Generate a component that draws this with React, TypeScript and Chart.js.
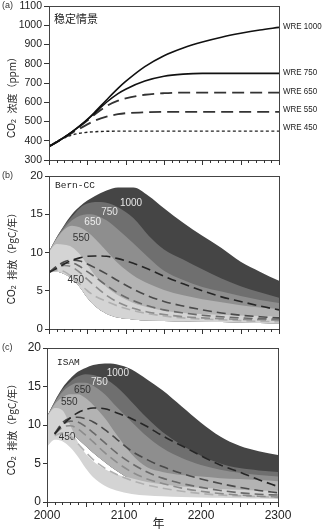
import React, { useEffect, useRef } from "react";
import { Chart, registerables } from "chart.js";

Chart.register(...registerables);

// ---------- Panel (a): CO2 concentration (ppm) ----------
const yearsA = [2000, 2010, 2020, 2030, 2040, 2050, 2060, 2075, 2090, 2100, 2125, 2150, 2175, 2200, 2225, 2250, 2275, 2300];
const wre1000 = [370, 393, 418, 446, 477, 511, 550, 612, 672, 708, 785, 842, 882, 913, 938, 958, 975, 989];
const wre750 = [370, 393, 418, 446, 476, 509, 545, 600, 645, 668, 710, 735, 746, 750, 750, 750, 750, 750];
const wre650 = [370, 393, 417, 444, 474, 505, 538, 580, 608, 620, 639, 647, 650, 650, 650, 650, 650, 650];
const wre550 = [370, 392, 415, 440, 463, 485, 505, 525, 538, 543, 548, 550, 550, 550, 550, 550, 550, 550];
const wre450 = [370, 396, 416, 430, 439, 444, 447, 449, 450, 450, 450, 450, 450, 450, 450, 450, 450, 450];
const wreNames = ["WRE 1000", "WRE 750", "WRE 650", "WRE 550", "WRE 450"];
const wreLabelValues = [995, 757, 658, 565, 471];
const ppmTicks = { min: 300, max: 1100, step: 100 };

// ---------- Panels (b),(c): emissions (PgC/yr) ----------
const yearsE = [2000, 2010, 2020, 2030, 2040, 2050, 2060, 2075, 2090, 2110, 2130, 2150, 2175, 2200, 2225, 2250, 2275, 2300];
const scenarioNames = ["1000", "750", "650", "550", "450"];

// Bern-CC
const bernUp1000 = [10.1, 12.0, 13.6, 15.0, 16.0, 16.8, 17.4, 18.1, 18.5, 18.5, 17.4, 15.8, 13.9, 12.2, 10.6, 8.8, 7.5, 6.3];
const bernUp750 = [10.1, 12.0, 13.5, 14.7, 15.8, 16.4, 16.6, 16.5, 15.9, 14.5, 12.2, 10.4, 9.1, 7.8, 6.6, 5.6, 4.8, 4.1];
const bernUp650 = [10.1, 11.9, 13.2, 14.2, 14.8, 15.0, 14.9, 14.2, 13.0, 11.2, 9.3, 7.6, 6.4, 5.5, 4.9, 4.3, 3.8, 3.4];
const bernUp550 = [10.1, 11.8, 13.0, 13.5, 13.3, 12.7, 11.8, 10.2, 8.6, 7.0, 5.9, 5.1, 4.4, 3.9, 3.5, 3.1, 2.8, 2.6];
const bernUp450 = [10.1, 11.1, 11.0, 10.7, 9.8, 8.4, 7.0, 5.5, 4.4, 3.4, 2.8, 2.4, 2.1, 1.95, 1.85, 1.75, 1.7, 1.6];
const bernLow = [7.5, 7.5, 7.2, 6.6, 5.5, 4.1, 3.0, 2.0, 1.5, 1.25, 1.1, 1.05, 1.0, 0.95, 0.9, 0.85, 0.8, 0.75];
const bernD1000 = [7.4, 7.9, 8.5, 9.0, 9.3, 9.5, 9.55, 9.5, 9.2, 8.6, 7.8, 6.9, 5.9, 5.0, 4.2, 3.6, 3.0, 2.5];
const bernD750 = [7.4, 8.2, 8.8, 9.0, 8.9, 8.5, 8.0, 7.2, 6.3, 5.2, 4.3, 3.6, 3.0, 2.5, 2.1, 1.8, 1.6, 1.45];
const bernD650 = [7.4, 8.1, 8.6, 8.6, 8.2, 7.5, 6.8, 5.7, 4.7, 3.7, 3.0, 2.5, 2.1, 1.8, 1.6, 1.45, 1.35, 1.3];
const bernD550 = [7.4, 8.0, 8.3, 8.1, 7.4, 6.5, 5.6, 4.4, 3.5, 2.7, 2.2, 1.9, 1.6, 1.45, 1.35, 1.25, 1.2, 1.15];
const bernD450 = [7.4, 7.7, 7.5, 6.8, 5.9, 5.0, 4.3, 3.6, 3.0, 2.4, 2.0, 1.7, 1.45, 1.3, 1.2, 1.1, 1.0, 0.95];
const bernLabelYears = [2107, 2079, 2057, 2042, 2035];
const bernLabelValues = [16.5, 15.3, 13.9, 11.8, 6.4];

// ISAM
const isamUp1000 = [11.1, 13.1, 14.8, 16.0, 16.9, 17.4, 17.8, 18.0, 17.9, 17.2, 15.9, 14.5, 12.4, 10.3, 8.5, 7.3, 6.6, 6.1];
const isamUp750 = [11.1, 13.0, 14.6, 15.6, 16.3, 16.6, 16.5, 16.0, 15.0, 13.0, 10.9, 9.1, 7.4, 6.0, 5.0, 4.4, 4.1, 3.9];
const isamUp650 = [11.1, 12.9, 14.3, 15.1, 15.5, 15.5, 15.1, 14.0, 12.4, 10.4, 8.5, 7.0, 5.7, 4.8, 4.2, 3.8, 3.5, 3.3];
const isamUp550 = [11.1, 12.7, 13.6, 14.0, 14.0, 13.5, 12.6, 10.9, 8.8, 6.2, 4.5, 3.9, 3.5, 3.3, 3.1, 3.0, 2.85, 2.7];
const isamLow550 = [7.5, 8.5, 9.0, 9.2, 8.2, 7.3, 6.4, 5.2, 4.1, 2.9, 2.4, 2.1, 1.8, 1.6, 1.5, 1.4, 1.3, 1.2];
const isamUp450 = [11.1, 12.2, 11.9, 10.0, 7.8, 6.3, 5.3, 4.3, 3.6, 3.1, 2.6, 2.3, 2.0, 1.85, 1.7, 1.6, 1.5, 1.45];
const isamLow450 = [7.2, 8.1, 7.9, 7.1, 5.9, 4.4, 3.2, 2.1, 1.5, 1.05, 0.85, 0.75, 0.65, 0.6, 0.55, 0.5, 0.45, 0.4];
const isamD1000 = [null, 8.8, 10.0, 10.9, 11.6, 12.0, 12.2, 12.1, 11.6, 10.8, 9.8, 8.6, 7.3, 6.0, 4.8, 3.9, 2.9, 2.0];
const isamD750 = [null, 8.9, 10.3, 10.9, 11.0, 10.8, 10.4, 9.4, 8.2, 6.6, 5.5, 4.6, 3.7, 3.0, 2.4, 1.9, 1.5, 1.2];
const isamD650 = [null, 8.9, 10.0, 10.5, 10.4, 9.8, 9.0, 7.7, 6.4, 5.0, 3.9, 3.1, 2.4, 1.9, 1.5, 1.2, 1.0, 0.9];
const isamD550 = [null, 8.8, 9.7, 9.9, 9.5, 8.7, 7.8, 6.4, 5.2, 3.9, 3.0, 2.4, 1.8, 1.4, 1.1, 0.9, 0.75, 0.65];
const isamD450 = [null, 8.6, 9.0, 8.6, 7.6, 6.5, 5.5, 4.4, 3.6, 2.8, 2.2, 1.8, 1.4, 1.1, 0.9, 0.8, 0.7, 0.6];
const isamLabelYears = [2092, 2068, 2046, 2029, 2026];
const isamLabelValues = [16.75, 15.6, 14.5, 12.9, 8.4];

const emisTicks = { min: 0, max: 20, step: 5 };
const yearRange = { min: 2000, max: 2300, labelStep: 100, minorStep: 10, majorStep: 50 };

// ---------- styles ----------
const SANS = "'Liberation Sans', Arial, sans-serif";
const CJK = "'Noto Sans CJK SC', sans-serif";
const MONO = "'Liberation Mono', 'DejaVu Sans Mono', monospace";
const AX = "#333";
const bandColors = ["#454545", "#6f6f6f", "#8e8e8e", "#b3b3b3", "#d4d4d4"];
const dashColors = ["#262626", "#4a4a4a", "#6a6a6a", "#8c8c8c", "#b0b0b0"];
const bernLabelColors = ["#e6e6e6", "#e6e6e6", "#eeeeee", "#333", "#333"];
const isamLabelColors = ["#e6e6e6", "#e6e6e6", "#333", "#333", "#333"];

const pts = (years: number[], vals: (number | null)[]) => years.map((x, i) => ({ x, y: vals[i] }));

function scales(o: { ymin: number; ymax: number; step: number; yWidth: number; xHeight: number; showX: boolean; yFont: number; tickLen: number; tickPad: number }) {
  return {
    x: {
      type: "linear",
      min: yearRange.min,
      max: yearRange.max,
      afterFit: (s: any) => { s.height = o.xHeight; },
      grid: { display: false, drawTicks: true, tickLength: 4 },
      border: { display: true, color: AX, width: 1 },
      ticks: {
        display: o.showX,
        stepSize: yearRange.labelStep,
        padding: 2,
        maxRotation: 0,
        autoSkip: false,
        color: "#222",
        font: { family: SANS, size: 12 },
        callback: (v: any) => String(v),
      },
    },
    y: {
      type: "linear",
      min: o.ymin,
      max: o.ymax,
      afterFit: (s: any) => { s.width = o.yWidth; },
      grid: { drawOnChartArea: false, drawTicks: true, tickLength: o.tickLen, color: AX, lineWidth: 1 },
      border: { display: true, color: AX, width: 1 },
      ticks: {
        stepSize: o.step,
        padding: o.tickPad,
        color: "#222",
        font: { family: SANS, size: o.yFont },
        callback: (v: any) => String(v),
      },
    },
  };
}

type Part = { t: string; font: string; dy?: number };

function drawRotated(ctx: CanvasRenderingContext2D, x: number, y: number, parts: Part[]) {
  ctx.save();
  ctx.translate(x, y);
  ctx.rotate(-Math.PI / 2);
  ctx.fillStyle = "#222";
  ctx.textBaseline = "middle";
  ctx.textAlign = "left";
  let total = 0;
  const widths = parts.map((p) => { ctx.font = p.font; const w = ctx.measureText(p.t).width; total += w; return w; });
  let cx = -total / 2;
  parts.forEach((p, i) => { ctx.font = p.font; ctx.fillText(p.t, cx, p.dy || 0); cx += widths[i]; });
  ctx.restore();
}

function drawFrameAndTicks(chart: any) {
  const { ctx, chartArea } = chart;
  const { left, right, top, bottom } = chartArea;
  const xs = chart.scales.x;
  ctx.save();
  ctx.strokeStyle = "#444";
  ctx.lineWidth = 1;
  ctx.strokeRect(Math.round(left) + 0.5, Math.round(top) + 0.5, Math.round(right - left), Math.round(bottom - top));
  ctx.strokeStyle = AX;
  ctx.beginPath();
  for (let yr = yearRange.min; yr <= yearRange.max; yr += yearRange.minorStep) {
    const px = Math.round(xs.getPixelForValue(yr)) + 0.5;
    const len = yr % yearRange.majorStep === 0 ? 5 : 3;
    ctx.moveTo(px, Math.round(bottom));
    ctx.lineTo(px, Math.round(bottom) + len);
  }
  ctx.stroke();
  ctx.restore();
}

function panelLetter(ctx: CanvasRenderingContext2D, text: string, y: number) {
  ctx.save();
  ctx.fillStyle = "#333";
  ctx.font = `9px ${SANS}`;
  ctx.textBaseline = "middle";
  ctx.textAlign = "left";
  ctx.fillText(text, 2, y);
  ctx.restore();
}

function configA(): any {
  const lines = [
    { d: wre1000, dash: [] as number[], w: 1.6, c: "#111" },
    { d: wre750, dash: [], w: 1.6, c: "#111" },
    { d: wre650, dash: [12, 6], w: 1.8, c: "#333" },
    { d: wre550, dash: [12, 6], w: 1.8, c: "#333" },
    { d: wre450, dash: [3, 2.5], w: 1.4, c: "#222" },
  ];
  return {
    type: "line",
    data: {
      datasets: lines.map((l) => ({
        data: pts(yearsA, l.d),
        borderColor: l.c,
        borderWidth: l.w,
        borderDash: l.dash,
        pointRadius: 0,
        fill: false,
        cubicInterpolationMode: "monotone",
      })),
    },
    options: {
      responsive: false,
      animation: false,
      devicePixelRatio: 1,
      layout: { padding: { top: 26, right: 45, bottom: 0, left: 0 } },
      plugins: { legend: { display: false }, tooltip: { enabled: false } },
      scales: scales({ ymin: ppmTicks.min, ymax: ppmTicks.max, step: ppmTicks.step, yWidth: 49, xHeight: 10, showX: false, yFont: 10.5, tickLen: 5, tickPad: 2 }),
    },
    plugins: [
      {
        id: "decorA",
        afterDraw(chart: any) {
          const { ctx, chartArea } = chart;
          drawFrameAndTicks(chart);
          const ys = chart.scales.y;
          ctx.save();
          ctx.fillStyle = "#222";
          ctx.font = `9.5px ${SANS}`;
          ctx.textBaseline = "middle";
          ctx.textAlign = "left";
          wreNames.forEach((n, i) => {
            const w = ctx.measureText(n).width * 0.84;
            ctx.fillText(n, chartArea.right + 4, ys.getPixelForValue(wreLabelValues[i]), w);
          });
          ctx.font = `11px ${CJK}`;
          ctx.fillText("稳定情景", chartArea.left + 5, chartArea.top + 13);
          ctx.restore();
          panelLetter(ctx, "(a)", chartArea.top);
          drawRotated(ctx, 12, 115, [
            { t: "CO", font: `10px ${SANS}` },
            { t: "2", font: `7px ${SANS}`, dy: 2 },
            { t: "  ", font: `10px ${SANS}` },
            { t: "浓度", font: `10px ${CJK}` },
            { t: "（ppm）", font: `10px ${CJK}` },
          ]);
        },
      },
    ],
  };
}

function configEmis(o: {
  lowMain: number[]; lowOther: number[]; ups: number[][]; dashed: (number | null)[][];
  labelYears: number[]; labelValues: number[]; labelColors: string[];
  name: string; nameDx: number; nameDy: number; letter: string; yWidth: number; padRight: number;
  xHeight: number; showX: boolean; yFont: number; titleY: number; xTitle: boolean;
}): any {
  const ds: any[] = [];
  const base = { pointRadius: 0, cubicInterpolationMode: "monotone" };
  ds.push({ ...base, data: pts(yearsE, o.lowMain), borderWidth: 0, borderColor: "rgba(0,0,0,0)", fill: false, order: 20 });
  ds.push({ ...base, data: pts(yearsE, o.lowOther), borderWidth: 0, borderColor: "rgba(0,0,0,0)", fill: false, order: 20 });
  o.ups.forEach((u, k) =>
    ds.push({ ...base, data: pts(yearsE, u), borderWidth: 0, borderColor: "rgba(0,0,0,0)", backgroundColor: bandColors[k], fill: k === 4 ? 0 : 1, order: 10 - k })
  );
  o.dashed.forEach((d, k) =>
    ds.push({ ...base, data: pts(yearsE, d), borderColor: dashColors[k], borderWidth: 1.6, borderDash: [9, 5], fill: false, order: 1 })
  );
  return {
    type: "line",
    data: { datasets: ds },
    options: {
      responsive: false,
      animation: false,
      devicePixelRatio: 1,
      layout: { padding: { top: 26, right: o.padRight, bottom: 0, left: 0 } },
      plugins: { legend: { display: false }, tooltip: { enabled: false } },
      scales: scales({ ymin: emisTicks.min, ymax: emisTicks.max, step: emisTicks.step, yWidth: o.yWidth, xHeight: o.xHeight, showX: o.showX, yFont: o.yFont, tickLen: 4, tickPad: 2 }),
    },
    plugins: [
      {
        id: "decorE",
        afterDatasetDraw(chart: any, args: any) {
          if (args.index !== 6) return;
          const { ctx } = chart;
          const xs = chart.scales.x;
          const ys = chart.scales.y;
          ctx.save();
          ctx.font = `10px ${SANS}`;
          ctx.textAlign = "center";
          ctx.textBaseline = "middle";
          scenarioNames.forEach((n, i) => {
            ctx.fillStyle = o.labelColors[i];
            ctx.fillText(n, xs.getPixelForValue(o.labelYears[i]), ys.getPixelForValue(o.labelValues[i]));
          });
          ctx.restore();
        },
        afterDraw(chart: any) {
          const { ctx, chartArea } = chart;
          drawFrameAndTicks(chart);
          ctx.save();
          ctx.fillStyle = "#222";
          ctx.font = `9.5px ${MONO}`;
          ctx.textAlign = "left";
          ctx.textBaseline = "middle";
          ctx.fillText(o.name, chartArea.left + o.nameDx, chartArea.top + o.nameDy);
          if (o.xTitle) {
            ctx.font = `12px ${CJK}`;
            ctx.textAlign = "center";
            ctx.fillText("年", (chartArea.left + chartArea.right) / 2 - 4, chartArea.bottom + 21);
          }
          ctx.restore();
          panelLetter(ctx, o.letter, chartArea.top);
          drawRotated(ctx, 12, o.titleY, [
            { t: "CO", font: `10px ${SANS}` },
            { t: "2", font: `7px ${SANS}`, dy: 2 },
            { t: "  ", font: `10px ${SANS}` },
            { t: "排放", font: `10px ${CJK}` },
            { t: "（PgC/年）", font: `10px ${CJK}` },
          ]);
        },
      },
    ],
  };
}

function configB(): any {
  return configEmis({
    lowMain: bernLow, lowOther: bernLow,
    ups: [bernUp1000, bernUp750, bernUp650, bernUp550, bernUp450],
    dashed: [bernD1000, bernD750, bernD650, bernD550, bernD450],
    labelYears: bernLabelYears, labelValues: bernLabelValues, labelColors: bernLabelColors,
    name: "Bern-CC", nameDx: 6, nameDy: 9, letter: "(b)", yWidth: 49, padRight: 45,
    xHeight: 11, showX: false, yFont: 11.5, titleY: 106, xTitle: false,
  });
}

function configC(): any {
  return configEmis({
    lowMain: isamLow450, lowOther: isamLow550,
    ups: [isamUp1000, isamUp750, isamUp650, isamUp550, isamUp450],
    dashed: [isamD1000, isamD750, isamD650, isamD550, isamD450],
    labelYears: isamLabelYears, labelValues: isamLabelValues, labelColors: isamLabelColors,
    name: "ISAM", nameDx: 10, nameDy: 14, letter: "(c)", yWidth: 47, padRight: 46,
    xHeight: 27, showX: true, yFont: 12, titleY: 105, xTitle: true,
  });
}

export default function App() {
  const a = useRef<HTMLCanvasElement>(null);
  const b = useRef<HTMLCanvasElement>(null);
  const c = useRef<HTMLCanvasElement>(null);
  useEffect(() => {
    const charts = [
      new Chart(a.current!, configA()),
      new Chart(b.current!, configB()),
      new Chart(c.current!, configC()),
    ];
    return () => charts.forEach((ch) => ch.destroy());
  }, []);
  const cs = (top: number, h: number): React.CSSProperties => ({ position: "absolute", left: 0, top, width: 324, height: h });
  return (
    <div style={{ position: "absolute", left: 0, top: 0, width: 324, height: 529, overflow: "hidden", background: "#fff" }}>
      <canvas ref={a} width={324} height={190} style={cs(-20, 190)} />
      <canvas ref={b} width={324} height={190} style={cs(150, 190)} />
      <canvas ref={c} width={324} height={207} style={cs(322, 207)} />
    </div>
  );
}
